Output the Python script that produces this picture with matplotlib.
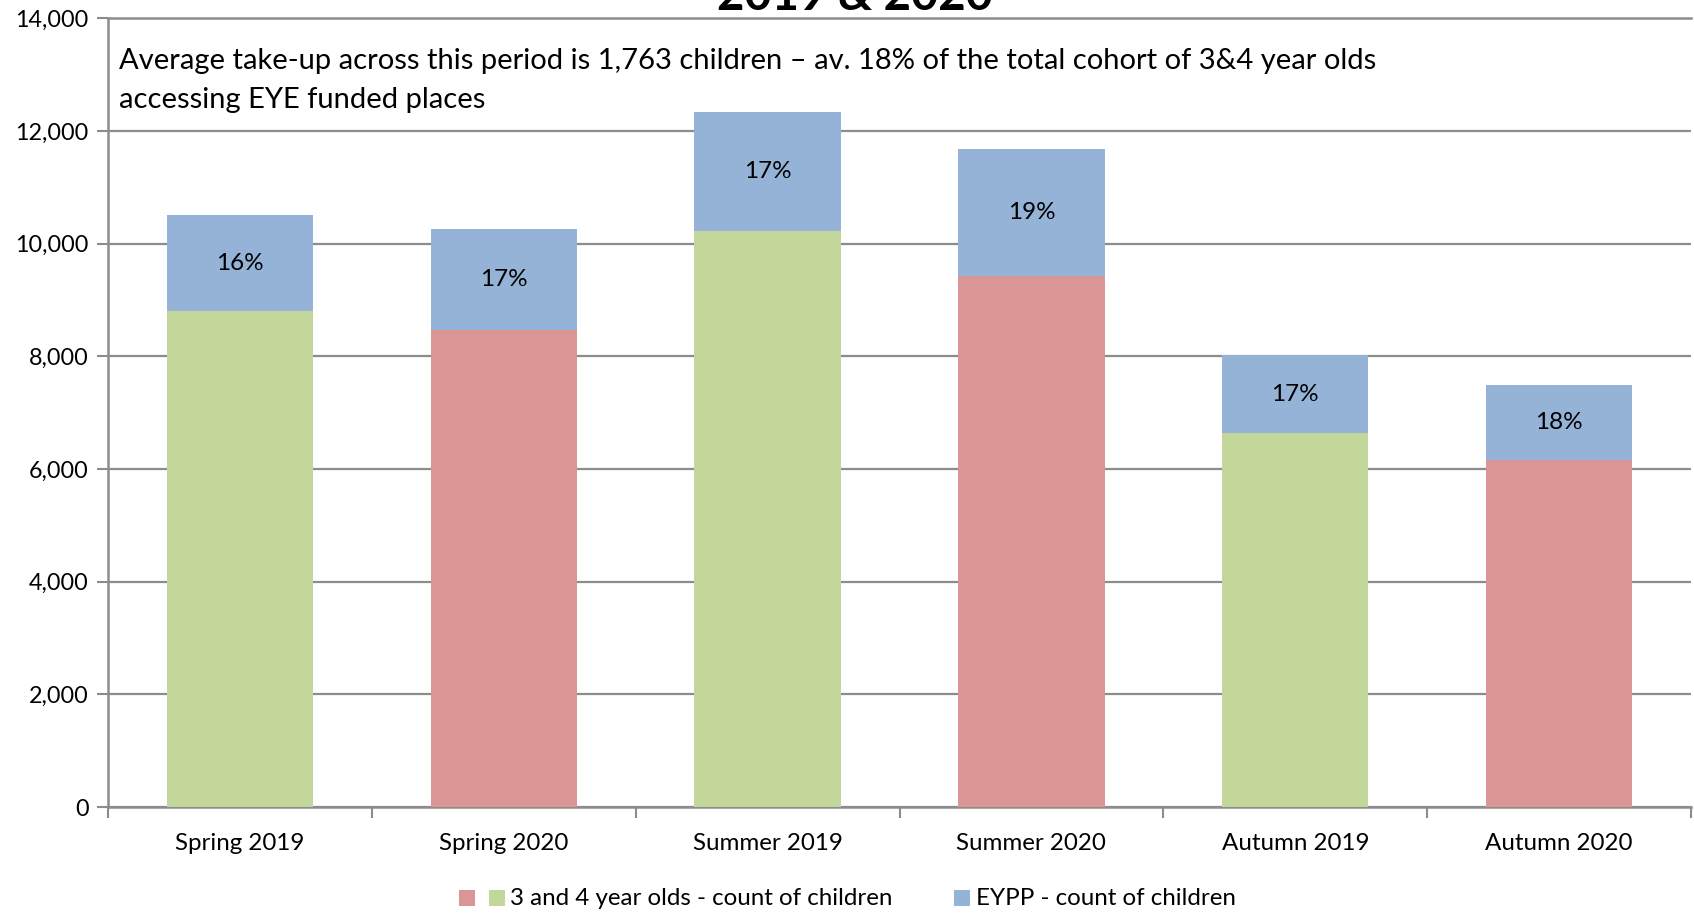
import matplotlib
matplotlib.use("Agg")
import matplotlib.pyplot as plt
from matplotlib.patches import Rectangle

plt.rcParams['font.family'] = ['Lato', 'DejaVu Sans']

categories = ["Spring 2019", "Spring 2020", "Summer 2019", "Summer 2020", "Autumn 2019", "Autumn 2020"]
base_counts = [8800, 8460, 10220, 9420, 6640, 6160]
eypp_counts = [1710, 1800, 2110, 2260, 1380, 1340]
pct_labels = ["16%", "17%", "17%", "19%", "17%", "18%"]
yticks = [0, 2000, 4000, 6000, 8000, 10000, 12000, 14000]
legend_labels = ["3 and 4 year olds - count of children", "EYPP - count of children"]
title = "2019 & 2020"
note = ("Average take-up across this period is 1,763 children \u2013 av. 18% of the total cohort of 3&4 year olds\n"
        "accessing EYE funded places")

green = "#C4D79B"
red = "#DA9694"
blue = "#95B3D7"
base_colors = [green, red, green, red, green, red]
gridc = "#8C8C8C"

W, H = 1694, 913
fig = plt.figure(figsize=(W/100, H/100), dpi=100)
ax = fig.add_axes([108/W, 1-807/H, (1691-108)/W, (807-18.4)/H])

x = list(range(len(categories)))
w = 0.555
ax.bar(x, base_counts, width=w, color=base_colors, zorder=3)
ax.bar(x, eypp_counts, bottom=base_counts, width=w, color=blue, zorder=3)

for xi, b, e, lab in zip(x, base_counts, eypp_counts, pct_labels):
    ax.text(xi, b + e/2, lab, ha='center', va='center', fontsize=17.5, color='black', zorder=4)

ax.set_xlim(-0.5, len(categories)-0.5)
ax.set_ylim(0, 14000)
ax.set_yticks(yticks)
ax.set_yticklabels([f"{v:,}" for v in yticks], fontsize=16.8)
ax.yaxis.grid(True, color=gridc, linewidth=1.6, zorder=0)
ax.set_axisbelow(True)
ax.tick_params(axis='y', length=8, width=1.5, color=gridc, pad=6)

ax.set_xticks(x)
ax.set_xticklabels(categories, fontsize=17.4)
ax.tick_params(axis='x', which='major', length=0, pad=19)
ax.set_xticks([i - 0.5 for i in range(len(categories)+1)], minor=True)
ax.tick_params(axis='x', which='minor', length=8, width=1.5, color=gridc)

for s in ['left', 'bottom', 'top']:
    ax.spines[s].set_color(gridc)
    ax.spines[s].set_linewidth(1.8)
ax.spines['right'].set_visible(False)

fig.text(119/W, 1-48.5/H, note, fontsize=21, va='top', ha='left', linespacing=1.6, zorder=5)

fig.text(855/W, 1-10/H, title, fontsize=34, fontweight='bold', ha='center', va='baseline')

# legend (manual, Excel-style)
ly = 898
sq = 16
for px, col in [(459, red), (489, green), (954, blue)]:
    fig.add_artist(Rectangle((px/W, (H-ly-sq/2)/H), sq/W, sq/H, transform=fig.transFigure,
                             facecolor=col, edgecolor='none'))
fig.text(510/W, 1-ly/H, legend_labels[0], fontsize=17.4, va='center', ha='left')
fig.text(976/W, 1-ly/H, legend_labels[1], fontsize=17.4, va='center', ha='left')

fig.savefig("out.png", dpi=100)
